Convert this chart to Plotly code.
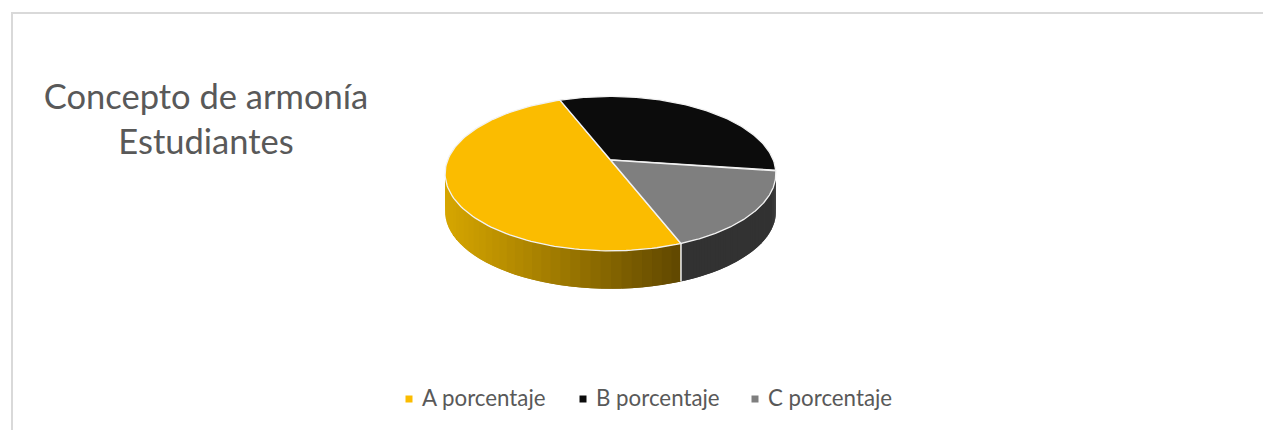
"""Concepto de armonia - 3D style pie drawn on a pixel-sized xy plane."""

import numpy as np
import plotly.graph_objects as go

categories = ['A porcentaje', 'B porcentaje', 'C porcentaje']
shares = [50, 33, 17]
top_colors = ['#FBBC00', '#0C0C0C', '#7F7F7F']

FONT = 'Lato'
TEXT_COLOR = '#595959'

# pie geometry in page pixels
CX, CY = 610.5, 160
SX, SY = 162.8, 74.8
TILT = 0.1765
DEPTH = 38
START = -21.2  # degrees clockwise from the back of the pie, where B starts


def project(theta_deg):
    """Tilted circle to screen position, near edge looks bigger than far edge."""
    t = np.radians(theta_deg)
    w = 1 + TILT * np.cos(t)
    return CX + SX * np.sin(t) / w, CY - SY * np.cos(t) / w


def lerp_color(c0, c1, f):
    f = min(max(f, 0), 1)
    return 'rgb(%d,%d,%d)' % tuple(a + (b - a) * f for a, b in zip(c0, c1))


def wall(fig, a0, a1, c0, c1, steps=60):
    """Side wall of one slice as thin strips, coloured by screen x.
    Strips overlap the previous one, otherwise the joins show as stripes."""
    edges = np.linspace(a0, a1, steps + 1)
    for i in range(steps):
        e0, e1 = edges[max(i - 1, 0)], edges[i + 1]
        if np.cos(np.radians(e1)) > 0.3:
            continue  # hidden behind the top face
        arc = np.linspace(e0, e1, 4)
        xs, ys = project(arc)
        color = lerp_color(c0, c1, (xs.mean() - 446) / (680 - 446))
        fig.add_trace(go.Scatter(
            x=[*xs, *xs[::-1]], y=[*ys, *(ys[::-1] + DEPTH)],
            mode='lines', fill='toself', fillcolor=color,
            line=dict(width=0),
            hoverinfo='skip', showlegend=False,
        ))


# slice limits, order on the disc is B, C, A going clockwise
b_end = START + shares[1] * 3.6
c_end = b_end + shares[2] * 3.6
a_end = c_end + shares[0] * 3.6
limits = {'B porcentaje': (START, b_end), 'C porcentaje': (b_end, c_end), 'A porcentaje': (c_end, a_end)}

fig = go.Figure()

wall(fig, *limits['C porcentaje'], (50, 50, 50), (50, 50, 50))
wall(fig, *limits['A porcentaje'], (214, 166, 0), (94, 70, 0))

# white seam between the two visible walls
seam_x, seam_y = project(c_end)
fig.add_trace(go.Scatter(
    x=[seam_x, seam_x], y=[seam_y, seam_y + DEPTH], mode='lines',
    line=dict(color='#F2F2F2', width=1.5), hoverinfo='skip', showlegend=False,
))

for name, color in zip(categories, top_colors):
    a0, a1 = limits[name]
    xs, ys = project(np.linspace(a0, a1, 120))
    fig.add_trace(go.Scatter(
        x=[CX, *xs, CX], y=[CY, *ys, CY], mode='lines', fill='toself',
        fillcolor=color, line=dict(color='#F2F2F2', width=1.3),
        name=name, showlegend=False,
    ))

# legend row, drawn as marker + text so spacing follows the original
for name, color, lx in zip(categories, top_colors, [409, 583, 755]):
    fig.add_trace(go.Scatter(
        x=[lx], y=[399], mode='markers',
        marker=dict(symbol='square', size=7, color=color),
        hoverinfo='skip', showlegend=False,
    ))
    fig.add_trace(go.Scatter(
        x=[lx + 13], y=[400], mode='text', text=[name], textposition='middle right',
        textfont=dict(family=FONT, size=22.3, color=TEXT_COLOR),
        hoverinfo='skip', showlegend=False,
    ))

fig.update_layout(
    width=1263, height=430,
    margin=dict(l=0, r=0, t=0, b=0),
    paper_bgcolor='white', plot_bgcolor='white',
    title=dict(
        text='Concepto de armonía<br>Estudiantes',
        x=206 / 1263, xanchor='center', y=1 - 109 / 430, yanchor='middle',
        font=dict(family=FONT, size=34.5, color=TEXT_COLOR),
    ),
    xaxis=dict(range=[0, 1263], visible=False, fixedrange=True),
    yaxis=dict(range=[430, 0], visible=False, fixedrange=True),
    shapes=[
        dict(type='line', x0=12, x1=12, y0=12, y1=430, line=dict(color='#D9D9D9', width=2)),
        dict(type='line', x0=12, x1=1263, y0=13, y1=13, line=dict(color='#D9D9D9', width=2)),
    ],
)

fig.write_html("out.html", config=dict(displayModeBar=False),
               post_script="document.body.style.margin='0';")
